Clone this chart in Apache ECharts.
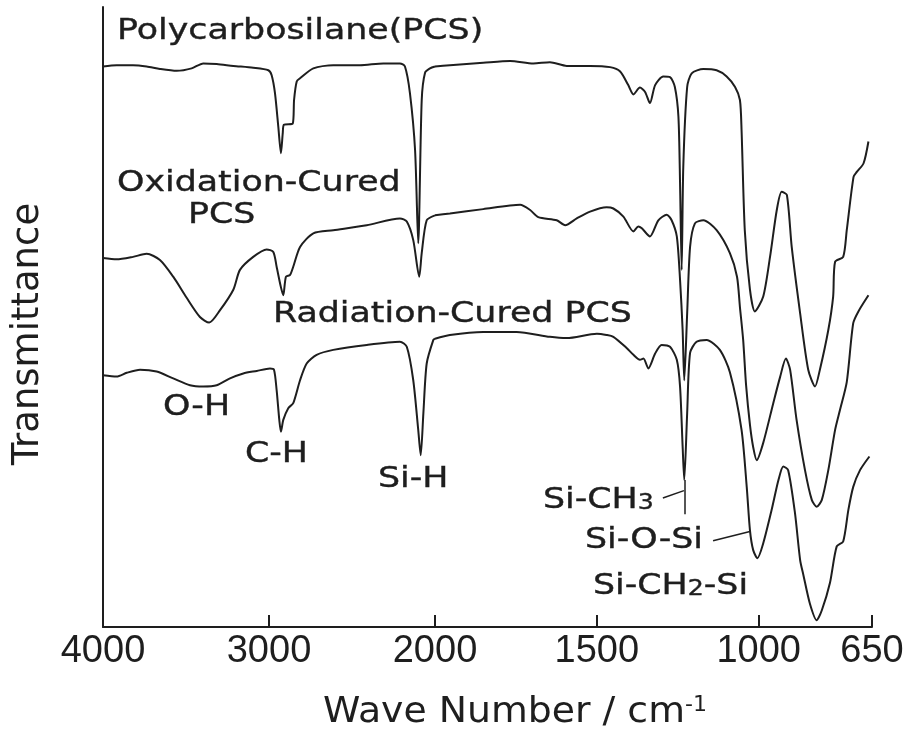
<!DOCTYPE html>
<html>
<head>
<meta charset="utf-8">
<title>IR spectra of PCS</title>
<script src="https://cdn.jsdelivr.net/npm/echarts@6/dist/echarts.min.js"></script>
<style>
  html, body { margin: 0; padding: 0; background: #fff; }
  #chart { width: 907px; height: 733px; }
</style>
</head>
<body>
<div id="chart"></div>
<script>
// Wave numbers (cm-1) and relative transmittance (offset, arbitrary units) for each spectrum
const wavePCS = [4000,3918,3819,3737,3657,3556,3466,3396,3315,3215,3095,3004,2984,2964,2944,2928,2917,2910,2857,2849,2833,2813,2733,2613,2452,2311,2211,2181,2151,2120,2101,2080,2060,2030,2000,1954,1851,1768,1696,1645,1593,1521,1459,1428,1403,1387,1367,1351,1336,1320,1295,1274,1259,1248,1243,1238,1233,1221,1207,1171,1130,1099,1073,1058,1053,1043,1027,1012,986,965,944,929,913,898,872,847,826,811,785,770,764,739,728,707,697,676,661];
const transPCS = [90.4,90.6,90.6,90.4,90.0,89.7,90.1,90.9,90.8,90.5,90.2,89.8,89.0,86.1,80.7,76.4,79.7,81.0,81.2,85.0,88.0,88.5,90.1,90.6,90.6,90.9,90.9,90.4,86.1,76.9,61.9,85.0,89.4,90.1,90.4,90.6,91.0,91.3,90.9,91.1,90.5,90.5,90.3,89.6,87.4,85.9,87.0,86.3,84.5,87.4,88.8,88.7,87.1,82.3,71.6,57.6,74.2,87.1,89.3,90.0,89.8,88.8,87.1,85.0,80.2,64.0,54.4,50.9,53.3,59.7,67.3,70.2,69.7,61.3,50.6,41.5,38.8,41.5,47.9,53.3,58.9,59.7,64.0,72.6,73.4,74.8,78.3];

const waveOxid = [4000,3918,3819,3737,3657,3577,3496,3416,3360,3295,3215,3175,3095,3014,2974,2954,2929,2914,2898,2873,2854,2813,2733,2613,2411,2211,2170,2131,2095,2080,2050,2000,1954,1851,1737,1707,1681,1624,1598,1562,1521,1470,1449,1418,1387,1372,1361,1336,1310,1284,1269,1253,1243,1235,1230,1221,1212,1197,1171,1130,1089,1067,1058,1048,1039,1027,1017,1006,986,955,934,916,903,883,857,836,821,805,785,764,749,728,708,692,661];
const transOxid = [59.5,59.3,59.7,60.2,59.2,56.5,53.1,50.0,49.1,51.1,54.4,57.6,59.7,60.9,60.5,58.1,54.9,53.5,56.5,56.8,58.1,61.3,63.5,64.0,64.8,65.9,65.4,62.4,56.5,60.3,65.6,66.4,66.7,67.4,68.1,67.3,66.1,65.6,64.8,65.9,67.0,67.7,67.5,66.2,63.8,64.6,64.3,63.0,65.6,66.5,65.6,63.0,56.0,47.9,39.8,50.6,61.3,65.1,65.6,64.0,60.3,56.5,51.6,46.3,39.0,32.6,29.0,26.9,29.7,36.1,40.3,43.3,41.5,33.4,25.3,20.5,19.4,20.5,25.3,31.8,35.0,39.5,49.0,50.9,53.5];

const waveRad = [4000,3918,3857,3777,3677,3577,3476,3396,3315,3235,3155,3074,2994,2970,2954,2938,2928,2914,2884,2854,2813,2773,2713,2613,2411,2211,2170,2131,2101,2086,2070,2050,2010,2000,1954,1851,1748,1645,1593,1500,1470,1449,1408,1387,1367,1356,1341,1320,1300,1274,1253,1243,1235,1230,1221,1212,1192,1161,1120,1089,1053,1037,1027,1017,1004,986,960,939,924,909,888,872,862,842,821,805,780,759,739,723,708,687,658];
const transRad = [40.6,40.4,41.0,41.5,41.2,40.1,39.0,38.8,39.0,40.1,40.9,41.3,41.7,41.5,38.2,33.4,31.5,33.4,35.3,36.1,39.8,42.5,43.9,44.7,45.5,46.0,45.2,39.8,31.8,27.7,34.5,42.5,46.3,46.5,47.1,47.6,47.6,46.8,46.6,47.3,47.1,46.8,45.0,43.9,43.1,43.3,41.7,44.1,45.5,45.2,43.1,38.8,29.1,23.7,34.5,44.2,46.0,46.3,44.7,41.1,31.8,22.6,15.6,12.4,11.1,13.5,18.9,23.7,25.9,25.3,18.4,10.8,8.4,3.8,1.1,2.7,7.1,13.0,13.8,18.9,22.6,25.3,27.5];

// Axis tick labels; the scale changes at 2000 cm-1
const leftTicks = [4000, 3000, 2000];
const rightTicks = [1500, 1000, 650];

// Band assignments
const bandLabels = ['O-H', 'C-H', 'Si-H', 'Si-CH{s|3}', 'Si-O-Si', 'Si-CH{s|2}-Si'];
const spectrumNames = ['Polycarbosilane(PCS)', 'Oxidation-Cured', 'PCS', 'Radiation-Cured PCS'];

const INK = '#1e1e1e';
const TEXT_FONT = 'DejaVu Sans';

// split a spectrum into the high (>=2000) and low (<=2000) wave-number halves
function halves(wave, trans) {
  const hi = [], lo = [];
  wave.forEach((w, i) => {
    if (w >= 2000) hi.push([w, trans[i]]);
    if (w <= 2000) lo.push([w, trans[i]]);
  });
  return { hi, lo };
}

const spectra = [
  halves(wavePCS, transPCS),
  halves(waveOxid, transOxid),
  halves(waveRad, transRad)
];

const lineBase = {
  type: 'line',
  showSymbol: false,
  symbol: 'none',
  smooth: 0.25,
  lineStyle: { color: INK, width: 2 },
  silent: true
};

const series = [];
spectra.forEach((s, k) => {
  series.push(Object.assign({}, lineBase, { name: 'hi' + k, xAxisIndex: 0, yAxisIndex: 0, data: s.hi }));
  const lo = Object.assign({}, lineBase, { name: 'lo' + k, xAxisIndex: 1, yAxisIndex: 1, data: s.lo });
  if (k === 2) {
    // leader lines for the Si-CH3 and Si-O-Si labels
    lo.markLine = {
      silent: true,
      symbol: ['none', 'none'],
      label: { show: false },
      lineStyle: { color: INK, width: 1.5, type: 'solid' },
      data: [
        [{ coord: [1230, 23.7] }, { coord: [1230, 18.2] }],
        [{ coord: [1296, 20.8] }, { coord: [1231, 22.0] }],
        [{ coord: [1141, 13.9] }, { coord: [1027, 15.4] }]
      ]
    };
  }
  series.push(lo);
});

function axisX(grid, min, max, labels, ticks) {
  return {
    type: 'value', gridIndex: grid, min, max, inverse: true,
    axisLine: { show: true, lineStyle: { color: INK, width: 2 } },
    axisTick: { show: true, inside: true, length: 12, customValues: ticks, lineStyle: { color: INK, width: 2 } },
    axisLabel: {
      show: true, customValues: labels, margin: 6,
      formatter: v => String(v),
      fontFamily: 'Liberation Sans', fontSize: 38, color: INK
    },
    splitLine: { show: false }
  };
}

function text(x, y, str, size, extra) {
  return Object.assign({
    type: 'text', x, y, scaleX: 1.2, silent: true,
    style: {
      text: str, fontFamily: TEXT_FONT, fontSize: size, fill: INK,
      stroke: INK, lineWidth: 0.4,
      align: 'left', verticalAlign: 'middle',
      rich: { s: { fontFamily: TEXT_FONT, fontSize: 21, fill: INK, verticalAlign: 'bottom' } }
    }
  }, extra || {});
}

const chart = echarts.init(document.getElementById('chart'), null, { renderer: 'canvas' });
chart.setOption({
  animation: false,
  backgroundColor: '#fff',
  grid: [
    { left: 103, top: 7, width: 332, height: 620 },
    { left: 435, top: 7, width: 437, height: 620 }
  ],
  xAxis: [
    axisX(0, 2000, 4000, leftTicks, [3000, 2000]),
    axisX(1, 650, 2000, rightTicks, rightTicks)
  ],
  yAxis: [
    { type: 'value', gridIndex: 0, min: 0, max: 100,
      axisLine: { show: true, lineStyle: { color: INK, width: 2 } },
      axisTick: { show: false }, axisLabel: { show: false }, splitLine: { show: false } },
    { type: 'value', gridIndex: 1, min: 0, max: 100, show: false }
  ],
  series,
  graphic: [
    text(117, 31, spectrumNames[0], 29),
    text(117, 183, spectrumNames[1], 29),
    text(188, 215, spectrumNames[2], 29),
    text(273, 314, spectrumNames[3], 29),
    text(163, 407, bandLabels[0], 29),
    text(245, 454, bandLabels[1], 29),
    text(378, 479, bandLabels[2], 29),
    text(543, 500, bandLabels[3], 29),
    text(585, 540, bandLabels[4], 29),
    text(593, 586, bandLabels[5], 29),
    {
      type: 'text', x: 28, y: 334, rotation: Math.PI / 2, silent: true,
      style: { text: 'Transmittance', fontFamily: TEXT_FONT, fontSize: 37, fill: INK,
               align: 'center', verticalAlign: 'middle' }
    },
    {
      type: 'text', x: 323, y: 713, scaleX: 1.05, silent: true,
      style: {
        text: 'Wave Number / cm{sup|-1}', fontFamily: TEXT_FONT, fontSize: 36, fill: INK,
        align: 'left', verticalAlign: 'middle',
        rich: { sup: { fontFamily: TEXT_FONT, fontSize: 21, fill: INK, verticalAlign: 'top' } }
      }
    }
  ]
});
</script>
</body>
</html>
